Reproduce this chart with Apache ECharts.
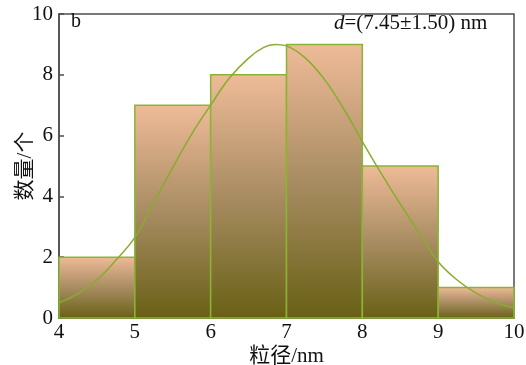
<!DOCTYPE html>
<html>
<head>
<meta charset="utf-8">
<script src="https://cdn.jsdelivr.net/npm/echarts@6/dist/echarts.min.js"></script>
<style>
  html, body { margin: 0; padding: 0; background: #fff; }
  #chart { width: 526px; height: 365px; }
</style>
</head>
<body>
<div id="chart"></div>
<script>
// histogram bins (nm) and counts
var binStart = [4, 5, 6, 7, 8, 9];
var binEnd = [5, 6, 7, 8, 9, 10];
var counts = [2, 7, 8, 9, 5, 1];

// fitted curve
var curveX = [4.0, 4.25, 4.5, 4.75, 5.0, 5.25, 5.5, 5.75, 6.0, 6.25, 6.5, 6.7, 6.85,
              7.0, 7.25, 7.5, 7.75, 8.0, 8.25, 8.5, 8.75, 9.0, 9.25, 9.5, 9.75, 10.0];
var curveY = [0.5, 0.8, 1.25, 1.9, 2.65, 3.8, 4.95, 6.05, 7.0, 7.9, 8.55, 8.9, 9.0,
              8.95, 8.55, 7.85, 6.9, 5.8, 4.75, 3.75, 2.8, 1.85, 1.25, 0.82, 0.52, 0.33];

var serif = '"Liberation Serif", "Times New Roman", "Noto Sans CJK SC", serif';

var barData = [];
for (var i = 0; i < counts.length; i++) {
    barData.push([binStart[i], binEnd[i], counts[i]]);
}
var lineData = [];
for (var j = 0; j < curveX.length; j++) {
    lineData.push([curveX[j], curveY[j]]);
}

var chart = echarts.init(document.getElementById('chart'));

var option = {
    animation: false,
    grid: {
        left: 59, right: 12, top: 14, bottom: 47,
        containLabel: false, outerBoundsMode: 'none',
        show: true, borderColor: '#4d4d4d', borderWidth: 1.5
    },
    xAxis: {
        type: 'value', min: 4, max: 10, interval: 1,
        name: '粒径/nm', nameLocation: 'middle', nameGap: 28, nameMoveOverlap: false,
        nameTextStyle: { fontFamily: serif, fontSize: 21, color: '#111' },
        axisLine: { show: true, lineStyle: { color: '#4d4d4d', width: 1.5 } },
        axisTick: { show: false },
        splitLine: { show: false },
        axisLabel: { fontFamily: serif, fontSize: 21, color: '#111', margin: 4 }
    },
    yAxis: {
        type: 'value', min: 0, max: 10, interval: 2,
        name: '数量/个', nameLocation: 'middle', nameGap: 23, nameMoveOverlap: false,
        nameTextStyle: { fontFamily: serif, fontSize: 21, color: '#111' },
        axisLine: { show: true, lineStyle: { color: '#4d4d4d', width: 1.5 } },
        axisTick: { show: true, inside: true, length: 5, lineStyle: { color: '#4d4d4d', width: 1.5 } },
        splitLine: { show: false },
        axisLabel: { fontFamily: serif, fontSize: 21, color: '#111', margin: 6 }
    },
    series: [
        {
            type: 'custom',
            data: barData,
            encode: { x: [0, 1], y: 2 },
            renderItem: function (params, api) {
                var p0 = api.coord([api.value(0), api.value(2)]);
                var p1 = api.coord([api.value(1), 0]);
                return {
                    type: 'rect',
                    shape: { x: p0[0], y: p0[1], width: p1[0] - p0[0], height: p1[1] - p0[1] },
                    style: {
                        fill: new echarts.graphic.LinearGradient(0, 0, 0, 1, [
                            { offset: 0, color: '#efbb98' },
                            { offset: 0.5, color: '#a88c62' },
                            { offset: 1, color: '#686015' }
                        ]),
                        stroke: '#8ab532',
                        lineWidth: 1.5
                    }
                };
            },
            z: 2
        },
        {
            type: 'line',
            data: lineData,
            smooth: 0.4,
            showSymbol: false,
            lineStyle: { color: '#86ad2c', width: 1.5 },
            z: 3
        }
    ],
    graphic: [
        {
            type: 'text', left: 71, top: 12,
            style: { text: 'b', font: '20px ' + serif, fill: '#111' }
        },
        {
            type: 'text', left: 334, top: 13,
            style: {
                rich: {
                    i: { fontFamily: serif, fontSize: 21, fontStyle: 'italic', fill: '#111' },
                    n: { fontFamily: serif, fontSize: 21, fill: '#111' }
                },
                text: '{i|d}{n|=(7.45±1.50) nm}'
            }
        }
    ]
};

chart.setOption(option);
</script>
</body>
</html>
